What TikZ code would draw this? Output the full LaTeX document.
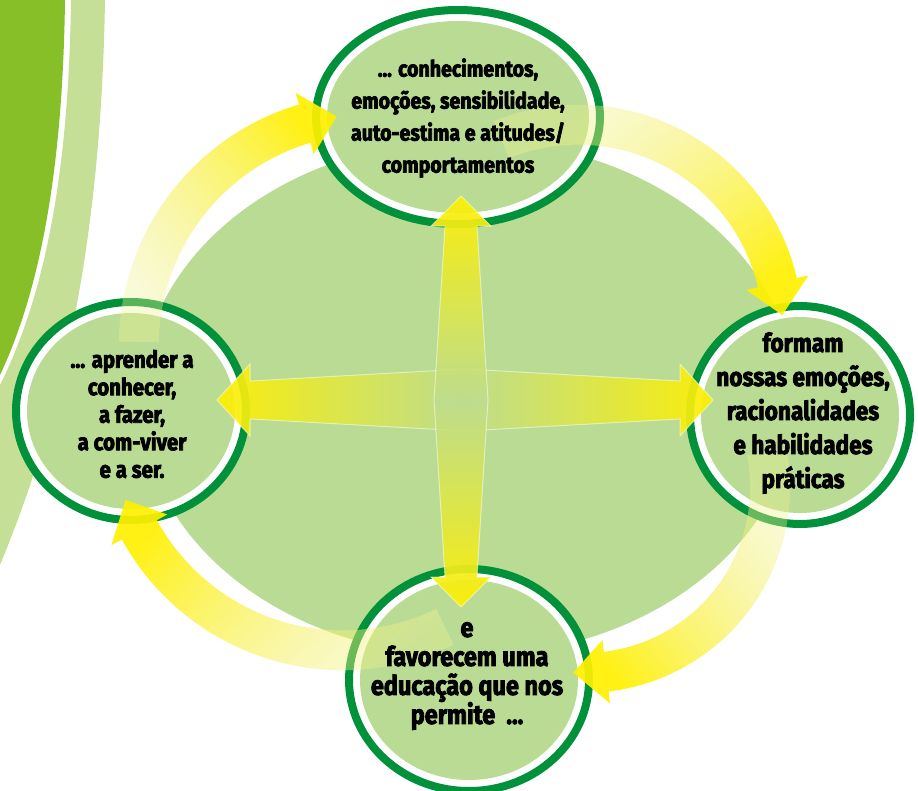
\documentclass[tikz,border=0pt]{standalone}
\usepackage{fontspec}
\newfontfamily\lbl{Fira Sans}[FakeStretch=0.87, BoldFeatures={FakeBold=3}]
\usetikzlibrary{shapes.geometric,fadings}
\definecolor{bgc}{RGB}{186,219,148}
\definecolor{dgreen}{RGB}{0,145,58}
\definecolor{band}{RGB}{134,191,40}
\definecolor{lband}{RGB}{197,224,150}
\definecolor{ybright}{RGB}{255,240,0}
\definecolor{ypale}{RGB}{240,242,150}
\definecolor{ymid}{RGB}{190,221,142}
\tikzfading[name=tailfade, top color=transparent!0, bottom color=transparent!60]
\tikzset{
  ring/.style={ellipse, draw=dgreen, line width=8pt, fill=white, inner sep=0pt, outer sep=0pt},
  core/.style={ellipse, fill=bgc, draw=none, inner sep=0pt, outer sep=0pt},
  txt/.style={align=center, text=black, inner sep=0pt},
  crossarrow/.style={opacity=0.92, draw=white, draw opacity=0.5, line width=1pt}
}
% cx cy R t0 t1 ttip shadingangle
\newcommand{\cyclearrow}[7]{%
  \path[top color=ybright, bottom color=ypale, shading angle=#7, opacity=0.92,
        path fading=tailfade, fading angle=#7]
    plot[domain=#4:#5, samples=50] ({#1+(#3+20)*cos(\x)},{#2-(#3+20)*sin(\x)})
    -- ({#1+(#3+32)*cos(#5)},{#2-(#3+32)*sin(#5)})
    -- ({#1+#3*cos(#6)},{#2-#3*sin(#6)})
    -- ({#1+(#3-32)*cos(#5)},{#2-(#3-32)*sin(#5)})
    -- plot[domain=#5:#4, samples=50] ({#1+(#3-20)*cos(\x)},{#2-(#3-20)*sin(\x)})
    -- cycle;}
\begin{document}
\begin{tikzpicture}[x=1pt, y=-1pt]
\useasboundingbox (0,0) rectangle (918,790);
\fill[white] (0,0) rectangle (918,790);
% left decorative bands
\fill[band] (0,0) -- (65,0) .. controls (63,150) and (45,280) .. (0,375) -- cycle;
\fill[lband] (71,0) -- (105,0) .. controls (101,250) and (60,420) .. (0,565)
  -- (0,385) .. controls (51,283) and (69,150) .. (71,0) -- cycle;
% big background ellipse
\fill[bgc] (468,398) ellipse [x radius=328pt, y radius=258pt];
% circles
\node[ring, minimum width=284pt, minimum height=214pt] (top) at (458,117) {};
\node[core, minimum width=262pt, minimum height=192pt] (topc) at (top.center) {};
\node[ring, minimum width=220pt, minimum height=218pt] (right) at (800,415) {};
\node[core, minimum width=198pt, minimum height=196pt] (rightc) at (right.center) {};
\node[ring, minimum width=230pt, minimum height=218pt] (left) at (131,411) {};
\node[core, minimum width=208pt, minimum height=196pt] (leftc) at (left.center) {};
\node[ring, minimum width=240pt, minimum height=222pt] (bottom) at (469,680) {};
\node[core, minimum width=218pt, minimum height=200pt] (bottomc) at (bottom.center) {};
% cross arrows
\path[crossarrow, left color=ybright, right color=ybright, middle color=ymid]
  (217,400) -- (250,364) -- (250,381) -- (465,369) -- (680,381) -- (680,364)
  -- (713,400) -- (680,436) -- (680,419) -- (465,431) -- (250,419) -- (250,436) -- cycle;
\path[crossarrow, top color=ybright, bottom color=ybright, middle color=ymid]
  (461,196) -- (491,226) -- (477,226) -- (488,400) -- (477,577) -- (491,577)
  -- (461,607) -- (431,577) -- (445,577) -- (434,400) -- (445,226) -- (431,226) -- cycle;
% cycle arrows
\cyclearrow{371}{346}{232}{179}{106.5}{98.4}{-49}
\cyclearrow{578}{330}{205}{112}{13.2}{4}{-137}
\cyclearrow{584}{487}{186}{11}{-83.2}{-93.4}{131}
\cyclearrow{343}{417}{233}{-64}{-151.2}{-159.3}{58}
% texts
\node[txt, font=\lbl\bfseries\fontsize{22.5}{32}\selectfont] (ttop) at (458,118)
  {... conhecimentos,\\emoções, sensibilidade,\\auto-estima e atitudes/\\comportamentos};
\node[txt, font=\lbl\bfseries\fontsize{26}{34}\selectfont] (tright) at (803,413)
  {formam\\nossas emoções,\\racionalidades\\e habilidades\\práticas};
\node[txt, font=\lbl\bfseries\fontsize{23.5}{27.5}\selectfont] (tleft) at (132,414)
  {... aprender a\\conhecer,\\a fazer,\\a com-viver\\e a ser.};
\node[txt, font=\lbl\bfseries\fontsize{27}{29}\selectfont] (tbottom) at (467,676)
  {e\\favorecem uma\\educação que nos\\permite~ ...};
\end{tikzpicture}
\end{document}
